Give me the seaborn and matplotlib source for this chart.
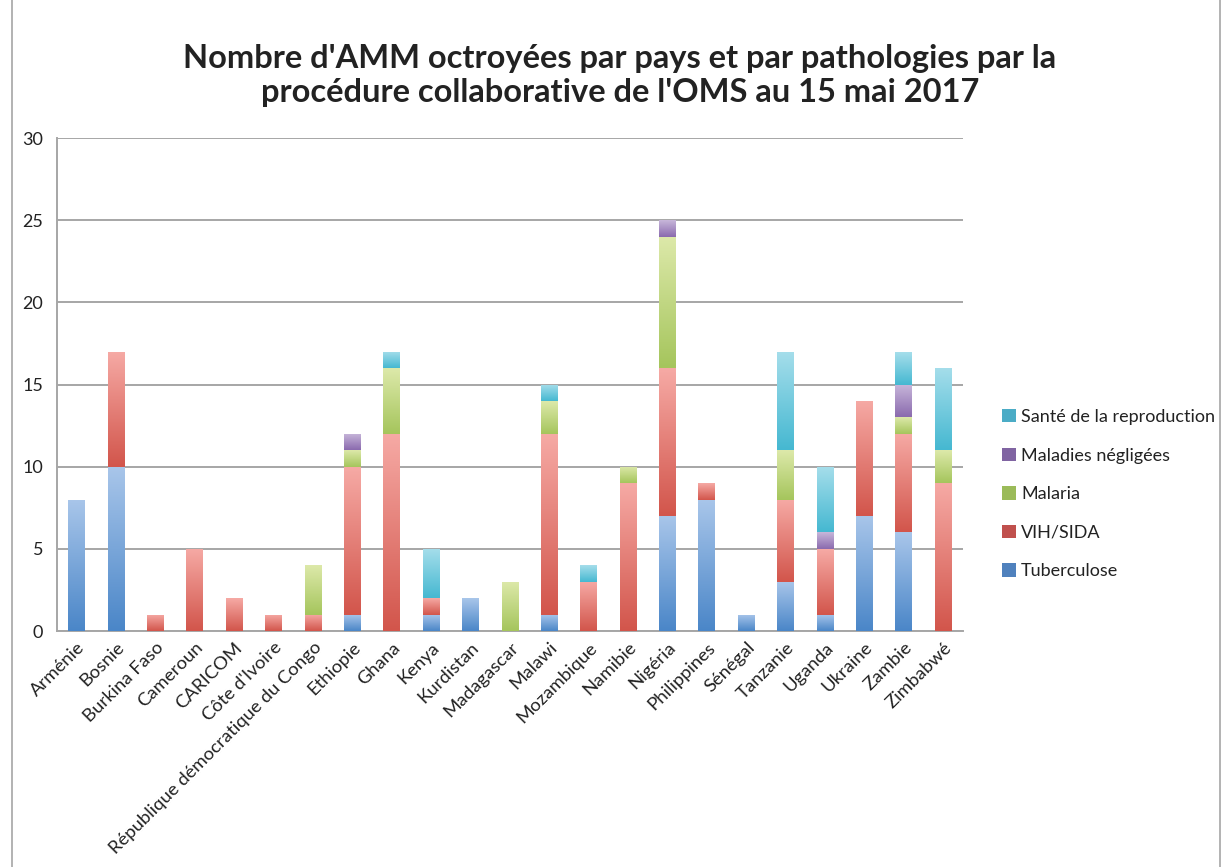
import numpy as np
import pandas as pd
import seaborn as sns
import matplotlib.pyplot as plt
from matplotlib.colors import LinearSegmentedColormap
from matplotlib.patches import Rectangle, Patch

pays = ["Arménie", "Bosnie", "Burkina Faso", "Cameroun", "CARICOM", "Côte d'Ivoire",
        "République démocratique du Congo", "Ethiopie", "Ghana", "Kenya", "Kurdistan",
        "Madagascar", "Malawi", "Mozambique", "Namibie", "Nigéria", "Philippines",
        "Sénégal", "Tanzanie", "Uganda", "Ukraine", "Zambie", "Zimbabwé"]

tuberculose = [8, 10, 0, 0, 0, 0, 0, 1, 0, 1, 2, 0, 1, 0, 0, 7, 8, 1, 3, 1, 7, 6, 0]
vih_sida = [0, 7, 1, 5, 2, 1, 1, 9, 12, 1, 0, 0, 11, 3, 9, 9, 1, 0, 5, 4, 7, 6, 9]
malaria = [0, 0, 0, 0, 0, 0, 3, 1, 4, 0, 0, 3, 2, 0, 1, 8, 0, 0, 3, 0, 0, 1, 2]
negligees = [0, 0, 0, 0, 0, 0, 0, 1, 0, 0, 0, 0, 0, 0, 0, 1, 0, 0, 0, 1, 0, 2, 0]
reproduction = [0, 0, 0, 0, 0, 0, 0, 0, 1, 3, 0, 0, 1, 1, 0, 0, 0, 0, 6, 4, 0, 2, 5]

series = [
    ("Tuberculose", tuberculose, "#4F81BD", "#4a86c8", "#a9c6ea"),
    ("VIH/SIDA", vih_sida, "#C0504D", "#d2554b", "#f6aaa5"),
    ("Malaria", malaria, "#9BBB59", "#a5c55c", "#dde9aa"),
    ("Maladies négligées", negligees, "#8064A2", "#8a6aae", "#c8b7da"),
    ("Santé de la reproduction", reproduction, "#4BACC6", "#45b8d1", "#a6deeb"),
]

sns.set_style("white")
plt.rcParams["font.family"] = ["Lato", "DejaVu Sans"]

fig = plt.figure(figsize=(12.23, 8.67), dpi=100)
ax = fig.add_axes([0.0466, 0.2722, 0.7408, 0.5686])

df = pd.DataFrame({"pays": pays})
bottom = np.zeros(len(pays))
groups = []
for name, vals, col, dark, light in series:
    n0 = len(ax.patches)
    sns.barplot(x=df["pays"], y=vals, bottom=bottom, color=col, saturation=1,
                width=0.43, linewidth=0, ax=ax, zorder=3)
    groups.append((ax.patches[n0:], dark, light))
    bottom = bottom + np.array(vals)

# gradient fill clipped to each bar (light on top, dark at the bottom)
grad = np.linspace(0, 1, 256).reshape(-1, 1)
for patches, dark, light in groups:
    cmap = LinearSegmentedColormap.from_list("g", [dark, light])
    for p in patches:
        x, y = p.get_x(), p.get_y()
        w, h = p.get_width(), p.get_height()
        if h <= 0:
            continue
        im = ax.imshow(grad, cmap=cmap, aspect="auto", origin="lower",
                       extent=(x, x + w, y, y + h), zorder=4)
        im.set_clip_path(p)

ax.set_xlim(-0.5, len(pays) - 0.5)
ax.set_ylim(0, 30)
ax.set_yticks(range(0, 31, 5))
ax.yaxis.grid(True, color="#a6a6a6", linewidth=1.4, zorder=0)
ax.set_axisbelow(True)
ax.set_xlabel("")
ax.set_ylabel("")

for s in ["top", "right"]:
    ax.spines[s].set_visible(False)
for s in ["left", "bottom"]:
    ax.spines[s].set_color("#a6a6a6")
    ax.spines[s].set_linewidth(1.4)

ax.set_xticks(np.arange(-0.5, len(pays), 1.0), minor=True)
ax.tick_params(axis="x", which="major", length=0, pad=6)
ax.tick_params(axis="x", which="minor", length=6, color="#a6a6a6", width=1.4)
ax.tick_params(axis="y", length=6, color="#a6a6a6", width=1.4, labelsize=13,
               labelcolor="#222222", pad=4)
ax.set_xticks(range(len(pays)))
ax.set_xticklabels(pays, rotation=45, ha="right", rotation_mode="anchor",
                   fontsize=13.3, color="#222222")

fig.text(0.507, 0.913, "Nombre d'AMM octroyées par pays et par pathologies par la\n"
         "procédure collaborative de l'OMS au 15 mai 2017",
         ha="center", va="center", fontsize=23.5, fontweight="bold",
         color="#222222", linespacing=1.2)

handles = [Patch(facecolor=col, edgecolor="none") for _, _, col, _, _ in series][::-1]
labels = [name for name, *_ in series][::-1]
fig.legend(handles, labels, loc="center left", bbox_to_anchor=(0.806, 0.43),
           frameon=False, fontsize=13, handlelength=0.75, handleheight=0.75,
           handletextpad=0.3, labelspacing=1.25, labelcolor="#222222")

fig.patches.append(Rectangle((0.0098, -0.01), 0.988, 1.02, transform=fig.transFigure,
                             fill=False, edgecolor="#a6a6a6", linewidth=1.2))

fig.savefig("out.png", dpi=100)
